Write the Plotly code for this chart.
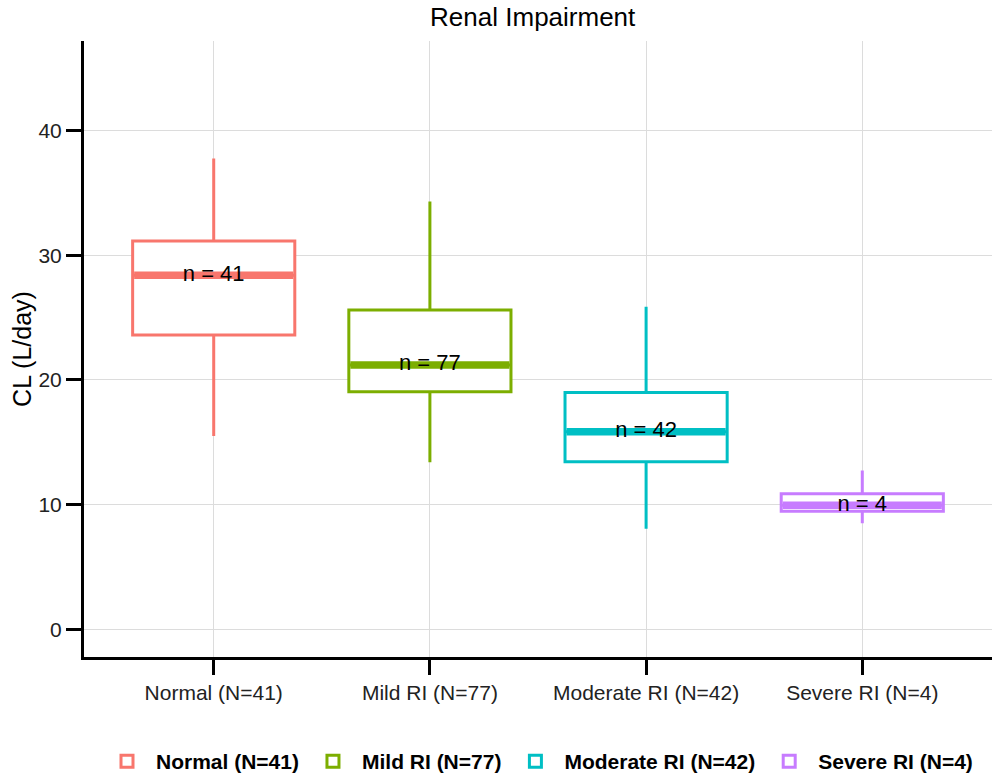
import plotly.graph_objects as go

categories = ["Normal (N=41)", "Mild RI (N=77)", "Moderate RI (N=42)", "Severe RI (N=4)"]
counts = [41, 77, 42, 4]
lower_whisker = [15.5, 13.4, 8.06, 8.49]
q1 = [23.6, 19.04, 13.44, 9.47]
median = [28.4, 21.2, 15.83, 9.95]
q3 = [31.13, 25.6, 18.99, 10.87]
upper_whisker = [37.76, 34.3, 25.86, 12.73]
colors = ["#F8766D", "#7CAE00", "#00BFC4", "#C77CFF"]
y_ticks = [0, 10, 20, 30, 40]

BOX_W = 0.75
FONT = "Liberation Sans, Arial, sans-serif"

fig = go.Figure()
for i, cat in enumerate(categories):
    fig.add_trace(go.Box(
        x=[i], q1=[q1[i]], median=[median[i]], q3=[q3[i]],
        lowerfence=[lower_whisker[i]], upperfence=[upper_whisker[i]],
        name=cat, width=BOX_W, whiskerwidth=0,
        fillcolor="white", line=dict(color=colors[i], width=3),
        boxpoints=False, showlegend=True,
    ))
for i, cat in enumerate(categories):
    fig.add_trace(go.Scatter(
        x=[i - BOX_W / 2 + 0.007, i + BOX_W / 2 - 0.007], y=[median[i], median[i]],
        mode="lines", line=dict(color=colors[i], width=7.5),
        showlegend=False, hoverinfo="skip",
    ))
fig.add_trace(go.Scatter(
    x=list(range(len(categories))), y=median,
    mode="text", text=[f"n = {n}" for n in counts],
    textfont=dict(family=FONT, size=22, color="black"),
    textposition="middle center", showlegend=False, hoverinfo="skip",
))

fig.update_layout(
    width=992, height=782,
    margin=dict(l=84, r=0, t=41, b=120),
    paper_bgcolor="white", plot_bgcolor="white",
    title=dict(text="Renal Impairment", x=0.537, xanchor="center", y=0.978, yanchor="middle",
               font=dict(family=FONT, size=26, color="black")),
    font=dict(family=FONT, size=20, color="black"),
    xaxis=dict(
        range=[-0.6, 3.6], tickmode="array",
        tickvals=list(range(len(categories))), ticktext=categories,
        showgrid=True, gridcolor="#DCDCDC", gridwidth=1.2,
        showline=True, linecolor="black", linewidth=3,
        ticks="outside", ticklen=15, tickwidth=3, tickcolor="black",
        tickfont=dict(family=FONT, size=21, color="#222"),
        zeroline=False, mirror=False,
    ),
    yaxis=dict(
        range=[-2.23, 47.18], tickmode="array", tickvals=y_ticks,
        showgrid=True, gridcolor="#DCDCDC", gridwidth=1.2,
        showline=True, linecolor="black", linewidth=3,
        ticks="outside", ticklen=15, tickwidth=3, tickcolor="black",
        tickfont=dict(family=FONT, size=21, color="#222"),
        zeroline=False,
        title=dict(text="CL (L/day)", font=dict(family=FONT, size=25, color="black"), standoff=0),
    ),
    legend=dict(
        orientation="h", x=0.5, xanchor="center", y=-0.17, yanchor="middle",
        font=dict(family=FONT, size=21, color="black", weight="bold"),
        itemwidth=48, traceorder="normal",
    ),
)

fig.write_html("out.html")
